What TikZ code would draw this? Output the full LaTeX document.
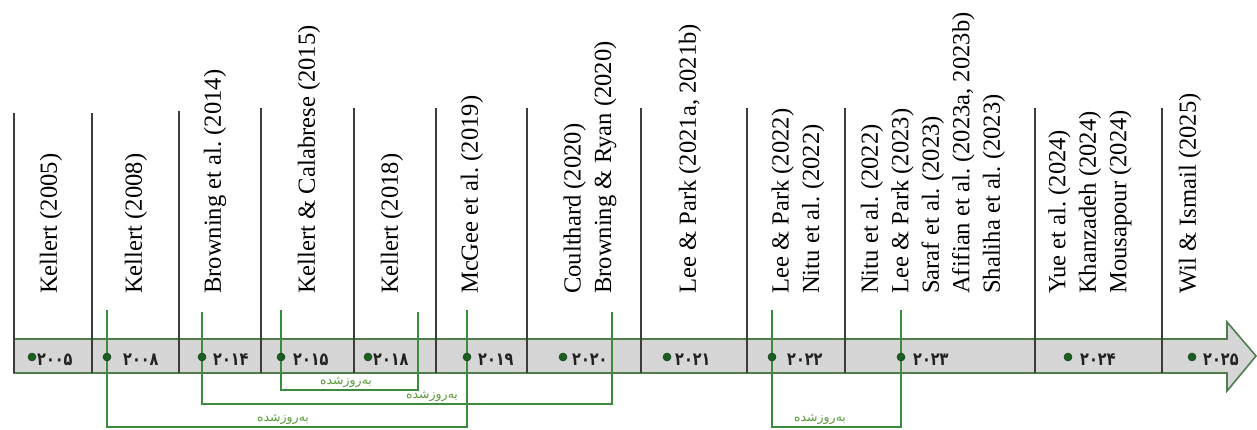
\documentclass[tikz,border=0pt]{standalone}
\usepackage{fontspec}
\usepackage{graphicx}
\setmainfont{Liberation Serif}
\newfontfamily\fafont[Script=Arabic]{DejaVu Sans}
\newfontfamily\digfont{DejaVu Sans}
\TeXXeTstate=1
\frenchspacing
\definecolor{bandfill}{RGB}{214,214,214}
\definecolor{bandedge}{RGB}{78,125,78}
\definecolor{sepcol}{RGB}{60,60,60}
\definecolor{updcol}{RGB}{61,139,61}
\definecolor{dotcol}{RGB}{27,94,32}
\definecolor{labcol}{RGB}{92,156,60}
\definecolor{digcol}{RGB}{34,34,34}
\newcommand{\yrlab}[1]{\scalebox{1}[1.25]{#1}}
\begin{document}
\begin{tikzpicture}[x=1pt,y=-1pt,
  band/.style={fill=bandfill,draw=bandedge,line width=1.6pt,line join=miter},
  sepline/.style={draw=sepcol,line width=2pt},
  upd/.style={draw=updcol,line width=1.5pt},
  yeardot/.style={circle,fill=dotcol,draw=dotcol!70!black,line width=0.5pt,minimum size=8pt,inner sep=0pt},
  yeartext/.style={anchor=base west,inner sep=0pt,text=digcol,font=\digfont\bfseries\fontsize{14.5}{16}\selectfont},
  reflab/.style={rotate=90,anchor=west,inner sep=0pt,align=left,font=\fontsize{24.6}{30.5}\selectfont},
  updlab/.style={anchor=base,inner sep=0pt,text=labcol,font=\fafont\fontsize{12.5}{14}\selectfont}]
\useasboundingbox (0,0) rectangle (1257,430);

% arrow band
\draw[band] (14,339) -- (1227,339) -- (1227,322) -- (1256,356) -- (1227,391) -- (1227,373) -- (14,373) -- cycle;

% separators
\foreach \x/\t in {14/113,92/113,179/111,261/108,354/108,436/108,527/108,641/108,747/108,845/108,1035/108,1162/108}
  \draw[sepline] (\x,\t) -- (\x,373);

% reference labels
\node[reflab] (c2005) at (51,294) {Kellert (2005)};
\node[reflab] (c2008) at (136,294) {Kellert (2008)};
\node[reflab] (c2014) at (215,294) {Browning et al. (2014)};
\node[reflab] (c2015) at (309,294) {Kellert \& Calabrese (2015)};
\node[reflab] (c2018) at (392,294) {Kellert (2018)};
\node[reflab] (c2019) at (472,294) {McGee et al. (2019)};
\node[reflab] (c2020) at (590,294) {Coulthard (2020)\\Browning \& Ryan (2020)};
\node[reflab] (c2021) at (690,294) {Lee \& Park (2021a, 2021b)};
\node[reflab] (c2022) at (798,294) {Lee \& Park (2022)\\Nitu et al. (2022)};
\node[reflab] (c2023) at (933,294) {Nitu et al. (2022)\\Lee \& Park (2023)\\Saraf et al. (2023)\\Afifian et al. (2023a, 2023b)\\Shaliha et al. (2023)};
\node[reflab] (c2024) at (1090,294) {Yue et al. (2024)\\Khanzadeh (2024)\\Mousapour (2024)};
\node[reflab] (c2025) at (1190,294) {Wil \& Ismail (2025)};

% update connectors
\coordinate (t2008) at (107,310);
\coordinate (t2019) at (467,310);
\coordinate (t2014) at (202,312);
\coordinate (t2020) at (612,312);
\coordinate (t2015) at (281,310);
\coordinate (t2018) at (418,312);
\coordinate (t2022) at (772,310);
\coordinate (t2023) at (901,310);
\coordinate (h1) at (0,427);
\coordinate (h2) at (0,404);
\coordinate (h3) at (0,390);
\draw[upd] (t2008) -- (t2008 |- h1) -- (t2019 |- h1) -- (t2019);
\draw[upd] (t2014) -- (t2014 |- h2) -- (t2020 |- h2) -- (t2020);
\draw[upd] (t2015) -- (t2015 |- h3) -- (t2018 |- h3) -- (t2018);
\draw[upd] (t2022) -- (t2022 |- h1) -- (t2023 |- h1) -- (t2023);

\node[updlab] (u1) at (283,421) {\beginR به‌روزشده\endR};
\node[updlab] (u2) at (432,398) {\beginR به‌روزشده\endR};
\node[updlab] (u3) at (346,384) {\beginR به‌روزشده\endR};
\node[updlab] (u4) at (820,421) {\beginR به‌روزشده\endR};

% year markers
\foreach \n/\dx/\tx/\lab in {2005/32/37/۲۰۰۵,2008/107/123/۲۰۰۸,2014/202/213/۲۰۱۴,2015/281/293/۲۰۱۵,2018/368/373/۲۰۱۸,2019/467/478/۲۰۱۹,2020/563/572/۲۰۲۰,2021/667/675/۲۰۲۱,2022/772/787/۲۰۲۲,2023/901/913/۲۰۲۳,2024/1068/1080/۲۰۲۴,2025/1192/1203/۲۰۲۵}{
  \node[yeardot] (d\n) at (\dx,357) {};
  \node[yeartext] (y\n) at (\tx,365) {\yrlab{\lab}};
}
\end{tikzpicture}
\end{document}
